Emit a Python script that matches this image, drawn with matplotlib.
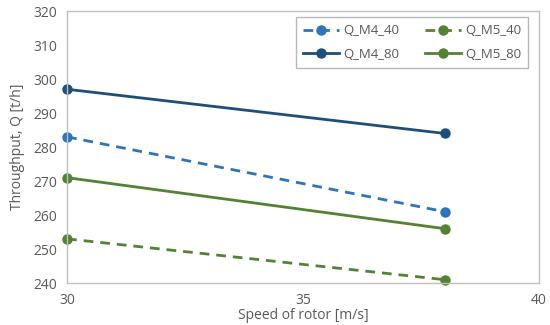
import matplotlib
matplotlib.use('Agg')
import matplotlib.pyplot as plt

# data
speed = [30, 38]
q_m4_40 = [283, 261]
q_m5_40 = [253, 241]
q_m4_80 = [297, 284]
q_m5_80 = [271, 256]

plt.rcParams['font.family'] = ['Open Sans', 'DejaVu Sans']
text_col = '#595959'
dark_blue = '#1F4E79'
blue = '#2E75B6'
green = '#548235'

fig = plt.figure(figsize=(5.5, 3.25), dpi=100)
ax = fig.add_axes([0.122, 0.129, 0.858, 0.837])

dash = (0, (3.5, 2.5))
l1, = ax.plot(speed, q_m4_40, color=blue, ls=dash, lw=2, marker='o', ms=6.5, label='Q_M4_40', clip_on=False)
l2, = ax.plot(speed, q_m5_40, color=green, ls=dash, lw=2, marker='o', ms=6.5, label='Q_M5_40', clip_on=False)
l3, = ax.plot(speed, q_m4_80, color=dark_blue, ls='-', lw=2, marker='o', ms=6.5, label='Q_M4_80', clip_on=False)
l4, = ax.plot(speed, q_m5_80, color=green, ls='-', lw=2, marker='o', ms=6.5, label='Q_M5_80', clip_on=False)

ax.set_xlim(30, 40)
ax.set_ylim(240, 320)
ax.set_xticks([30, 35, 40])
ax.set_yticks(range(240, 321, 10))
ax.tick_params(length=0, labelsize=10, colors=text_col, pad=7)
for s in ax.spines.values():
    s.set_color('#BFBFBF')
    s.set_linewidth(1)

ax.set_xlabel('Speed of rotor [m/s]', fontsize=10, color=text_col, labelpad=0)
ax.set_ylabel('Throughput, Q [t/h]', fontsize=10, color=text_col, labelpad=6)

# column-wise fill: order so rows read M4_40, M5_40 / M4_80, M5_80
leg = ax.legend([l1, l3, l2, l4], ['Q_M4_40', 'Q_M4_80', 'Q_M5_40', 'Q_M5_80'],
                ncol=2, loc='upper right', bbox_to_anchor=(0.977, 0.978), fontsize=9.5,
                frameon=True, fancybox=False, edgecolor='#A6A6A6', handlelength=2.7,
                handletextpad=0.3, columnspacing=2.0, borderpad=0.55, labelspacing=0.8,
                borderaxespad=0)
leg.get_frame().set_linewidth(1)
for t in leg.get_texts():
    t.set_color(text_col)

fig.savefig('out.png', dpi=100)
